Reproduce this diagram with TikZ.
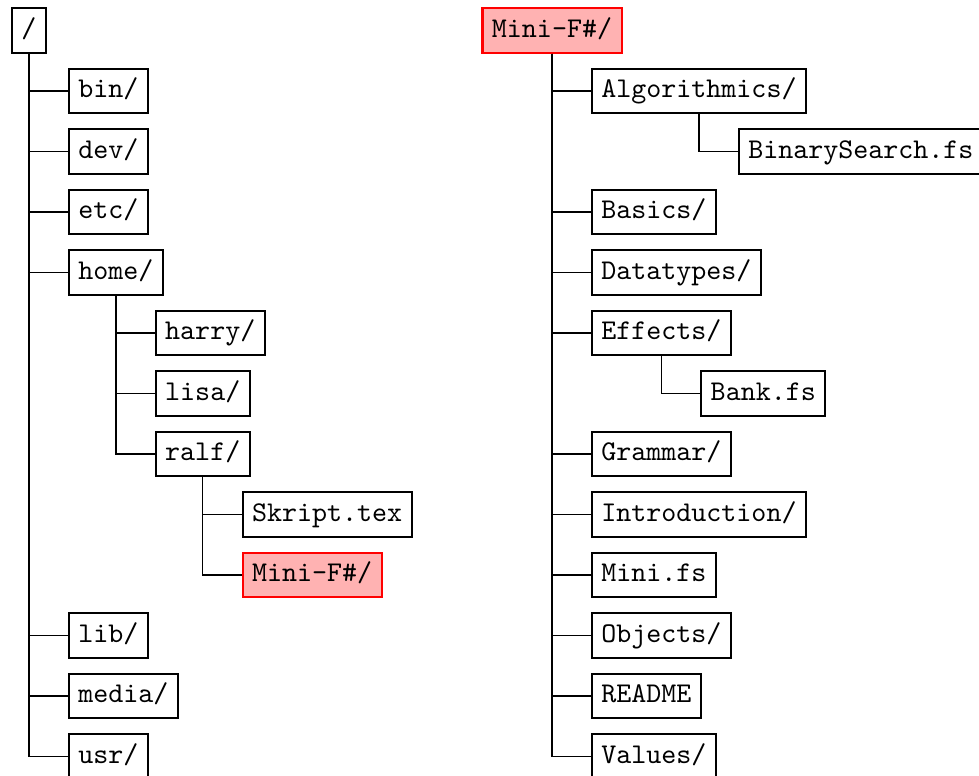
\documentclass[tikz,border=0pt]{standalone}
\usepackage{fontspec}
\usetikzlibrary{calc}
\usetikzlibrary{positioning}

\tikzset{
  dirbox/.style={draw, line width=0.7pt, font=\ttfamily, anchor=west,
    inner xsep=3.3pt, inner ysep=3.2pt, text height=7pt, text depth=2.2pt},
  hot/.style={draw=red, fill=red!30},
  branch/.style={line width=0.45pt},
}

\begin{document}
\begin{tikzpicture}
        \useasboundingbox (0,0) rectangle (342.3pt,-271.3pt);

        % Root of the file system
        \node [dirbox, anchor=center] (root) at (10.14pt,-10.66pt) {/};
        \foreach \nm/\lbl/\rw in {bin/{bin/}/1, dev/{dev/}/2, etc/{etc/}/3, home/{home/}/4,
                                  lib/{lib/}/10, media/{media/}/11, usr/{usr/}/12} {
            \node [dirbox] (\nm) at ($(root.center) + (13.6pt,-\rw*21.15pt)$) {\lbl};
            \draw [branch] (root.south) |- (\nm.west);
        }
        % Home directories
        \foreach \nm/\lbl/\rw in {harry/{harry/}/5, lisa/{lisa/}/6, ralf/{ralf/}/7} {
            \node [dirbox] (\nm) at ($(home.center |- root.center) + (13.6pt,-\rw*21.15pt)$) {\lbl};
            \draw [branch] (home.south) |- (\nm.west);
        }
        \node [dirbox] (skript) at ($(ralf.center |- root.center) + (13.6pt,-8*21.15pt)$) {Skript.tex};
        \node [dirbox, hot] (minisub) at ($(ralf.center |- root.center) + (13.6pt,-9*21.15pt)$) {Mini-F\#/};
        \draw [branch] (ralf.south) |- (skript.west);
        \draw [branch] (ralf.south) |- (minisub.west);

        % Contents of the project directory
        \node [dirbox, hot, anchor=center] (mini) at (193.0pt,-10.66pt) {Mini-F\#/};
        \foreach \nm/\lbl/\rw in {algo/{Algorithmics/}/1, basics/{Basics/}/3, datatypes/{Datatypes/}/4,
                                  effects/{Effects/}/5, grammar/{Grammar/}/7, intro/{Introduction/}/8,
                                  minifs/{Mini.fs}/9, objects/{Objects/}/10, readme/{README}/11,
                                  values/{Values/}/12} {
            \node [dirbox] (\nm) at ($(mini.center) + (13.6pt,-\rw*21.15pt)$) {\lbl};
            \draw [branch] (mini.south) |- (\nm.west);
        }
        \node [dirbox] (bsearch) at ($(algo.center |- mini.center) + (13.6pt,-2*21.15pt)$) {BinarySearch.fs};
        \node [dirbox] (bank) at ($(effects.center |- mini.center) + (13.6pt,-6*21.15pt)$) {Bank.fs};
        \draw [branch] (algo.south) |- (bsearch.west);
        \draw [branch] (effects.south) |- (bank.west);
\end{tikzpicture}
\end{document}
